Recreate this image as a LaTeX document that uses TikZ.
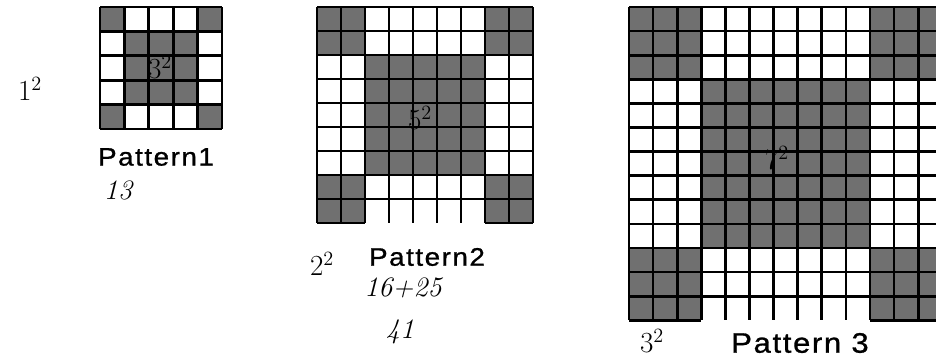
\documentclass[tikz,border=0pt]{standalone}
\usepackage{fontspec}
\usepackage{tikz}
\usetikzlibrary{positioning}
\newfontfamily\patfont[FakeStretch=1.1, LetterSpace=6, FakeBold=1]{Liberation Sans}
\definecolor{cellgray}{RGB}{112, 112, 112}
\tikzset{
  gridline/.style={line width=1.9pt, black},
  shaded/.style={fill=cellgray},
  patlabel/.style={inner sep=0pt, font=\patfont\fontsize{18}{20}\selectfont},
  scrawl/.style={inner sep=0pt, font=\fontsize{20}{22}\selectfont\itshape}
}

\begin{document}
\begin{tikzpicture}[x=0.025cm, y=-0.025cm]
    \useasboundingbox (0, 0) rectangle (936, 362);
    \clip (0, 0) rectangle (936, 362);

    % Pattern 1: 5x5, corners 1x1, centre 3x3
    \begin{scope}[shift={(100, 7)}]
        \fill[shaded] (0, 0) rectangle (24.4, 24.4);
        \fill[shaded] (97.6, 0) rectangle (122, 24.4);
        \fill[shaded] (0, 97.6) rectangle (24.4, 122);
        \fill[shaded] (97.6, 97.6) rectangle (122, 122);
        \fill[shaded] (24.4, 24.4) rectangle (97.6, 97.6);
        \foreach \i in {0,...,5} {
            \draw[gridline] (\i*24.4, 0) -- (\i*24.4, 122);
            \draw[gridline] (0, \i*24.4) -- (122, \i*24.4);
        }
    \end{scope}

    % Pattern 2: 9x9, corners 2x2, centre 5x5
    \begin{scope}[shift={(317, 7)}]
        \fill[shaded] (0, 0) rectangle (48, 48);
        \fill[shaded] (168, 0) rectangle (216, 48);
        \fill[shaded] (0, 168) rectangle (48, 216);
        \fill[shaded] (168, 168) rectangle (216, 216);
        \fill[shaded] (48, 48) rectangle (168, 168);
        \foreach \i in {0,...,9}
            \draw[gridline] (\i*24, 0) -- (\i*24, 216);
        \foreach \j in {0,...,8}
            \draw[gridline] (0, \j*24) -- (216, \j*24);
        % bottom edge only under the corners
        \draw[gridline] (0, 216) -- (48, 216);
        \draw[gridline] (168, 216) -- (216, 216);
    \end{scope}

    % Pattern 3: 13x13, corners 3x3, centre 7x7 (cut at the right)
    \begin{scope}[shift={(629, 7)}]
        \fill[shaded] (0, 0) rectangle (72.3, 72.3);
        \fill[shaded] (241, 0) rectangle (313.3, 72.3);
        \fill[shaded] (0, 241) rectangle (72.3, 313.3);
        \fill[shaded] (241, 241) rectangle (313.3, 313.3);
        \fill[shaded] (72.3, 72.3) rectangle (241, 241);
        \foreach \i in {0,...,13}
            \draw[gridline] (\i*24.1, 0) -- (\i*24.1, 313.3);
        \foreach \j in {0,...,12}
            \draw[gridline] (0, \j*24.1) -- (313.3, \j*24.1);
        \draw[gridline] (0, 313.3) -- (72.3, 313.3);
        \draw[gridline] (241, 313.3) -- (313.3, 313.3);
    \end{scope}

    % Labels
    \node[patlabel] (lab1) at (156, 157) {Pattern1};
    \node[patlabel] (lab2) at (427, 257) {Pattern2};
    \node[patlabel, font=\patfont\fontsize{20}{22}\selectfont] (lab3) at (800, 343) {Pattern 3};

    % Hand notes
    \node[scrawl] (side1) at (30, 89) {$1^2$};
    \node[scrawl] (mid1) at (160, 67) {$3^2$};
    \node[scrawl] (sum1) at (118, 190) {13};
    \node[scrawl] (mid2) at (420, 118) {$5^2$};
    \node[scrawl] (side2) at (322, 264) {$2^2$};
    \node[scrawl] (sum2) at (403, 288) {16+25};
    \node[scrawl] (tot2) at (400, 332) {41};
    \node[scrawl] (mid3) at (777, 158) {$7^2$};
    \node[scrawl] (side3) at (652, 341) {$3^2$};
\end{tikzpicture}
\end{document}
